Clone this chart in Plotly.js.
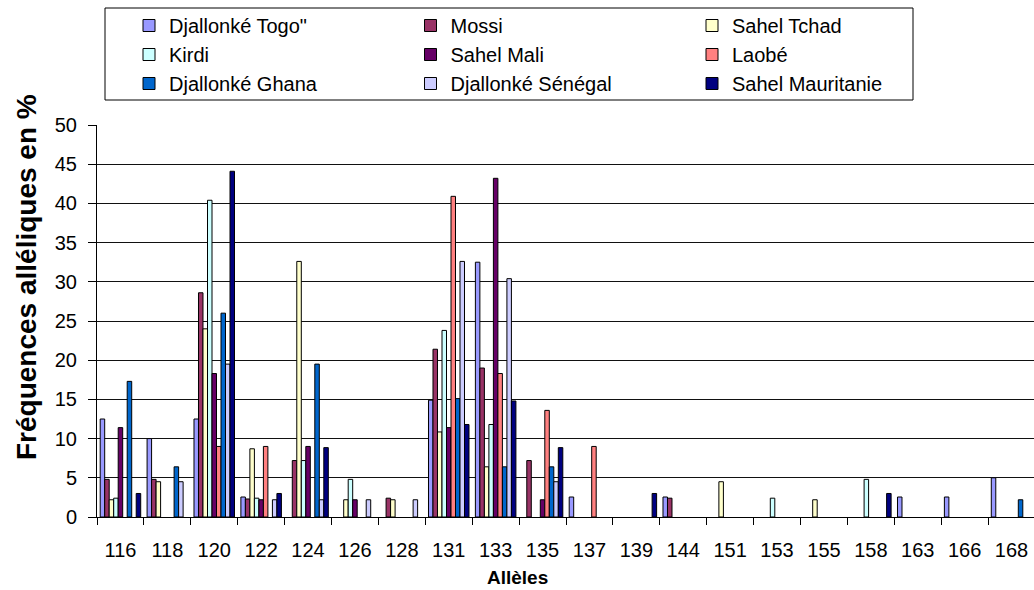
<!DOCTYPE html>
<html>
<head>
<meta charset="utf-8">
<script src="https://cdn.plot.ly/plotly-3.0.1.min.js"></script>
<style>
html, body { margin: 0; padding: 0; background: #ffffff; overflow: hidden; }
#chart { width: 1036px; height: 590px; }
</style>
</head>
<body>
<div id="chart"></div>
<script>
// Categories (alleles)
const alleles = ['116','118','120','122','124','126','128','131','133','135','137','139','144','151','153','155','158','163','166','168'];

// Series names
const seriesNames = ['Djallonké Togo"', 'Mossi', 'Sahel Tchad', 'Kirdi', 'Sahel Mali', 'Laobé', 'Djallonké Ghana', 'Djallonké Sénégal', 'Sahel Mauritanie'];

// Allelic frequencies (%) per series, null = absent
const djallonkeTogo    = [12.5, 10.0, 12.5, 2.55, null, null, null, 14.9, 32.5, null, 2.55, null, 2.55, null, null, null, null, 2.55, 2.55, 5.0];
const mossi            = [4.8, 4.8, 28.6, 2.3, 7.2, null, 2.4, 21.4, 19.0, 7.2, null, null, 2.4, null, null, null, null, null, null, null];
const sahelTchad       = [2.2, 4.5, 24.0, 8.7, 32.6, 2.2, 2.2, 10.85, 6.4, null, null, null, null, 4.5, null, 2.2, null, null, null, null];
const kirdi            = [2.4, null, 40.4, 2.4, 7.2, 4.8, null, 23.8, 11.8, null, null, null, null, null, 2.4, null, 4.8, null, null, null];
const sahelMali        = [11.4, null, 18.3, 2.2, 9.0, 2.2, null, 11.4, 43.2, 2.2, null, null, null, null, null, null, null, null, null, null];
const laobe            = [null, null, 9.0, 9.0, null, null, null, 40.9, 18.3, 13.6, 9.0, null, null, null, null, null, null, null, null, null];
const djallonkeGhana   = [17.3, 6.4, 26.0, null, 19.5, null, null, 15.1, 6.4, 6.4, null, null, null, null, null, null, null, null, null, 2.2];
const djallonkeSenegal = [null, 4.5, 19.5, 2.2, 2.2, 2.2, 2.2, 32.6, 30.4, 4.5, null, null, null, null, null, null, null, null, null, null];
const sahelMauritanie  = [3.0, null, 44.1, 3.0, 8.85, null, null, 11.8, 14.8, 8.85, null, 3.0, null, null, null, null, 3.0, null, null, null];

const seriesValues = [djallonkeTogo, mossi, sahelTchad, kirdi, sahelMali, laobe, djallonkeGhana, djallonkeSenegal, sahelMauritanie];
const seriesColors = ['#9999FF', '#993366', '#FFFFCC', '#CCFFFF', '#660066', '#FF8080', '#0066CC', '#CCCCFF', '#000080'];

const FONT = 'Liberation Sans, Arial, sans-serif';

const traces = seriesNames.map((name, i) => ({
  type: 'bar',
  name: name,
  x: alleles,
  y: seriesValues[i],
  marker: { color: seriesColors[i], line: { color: '#000000', width: 1 } }
}));

// geometry helpers (plot area: left 97px, width 938px, top 125px, height 392px)
const L = 97, W = 938, T = 125, H = 392;
const px = v => (v - L) / W;
const py = v => (T + H - v) / H;

const layout = {
  width: 1036,
  height: 590,
  margin: { l: L, r: 1036 - L - W, t: T, b: 590 - T - H, pad: 0 },
  paper_bgcolor: '#ffffff',
  plot_bgcolor: '#ffffff',
  font: { family: FONT, size: 20, color: '#000000' },
  barmode: 'group',
  bargap: 0.136,
  bargroupgap: 0,
  showlegend: true,
  legend: {
    orientation: 'h',
    x: px(129), xanchor: 'left',
    y: py(6), yanchor: 'top',
    bgcolor: 'rgba(0,0,0,0)',
    borderwidth: 0,
    font: { family: FONT, size: 20, color: '#000000' },
    entrywidth: 236.5,
    entrywidthmode: 'pixels',
    traceorder: 'normal'
  },
  xaxis: {
    type: 'category',
    showgrid: false,
    showline: true,
    linecolor: '#000000',
    linewidth: 1,
    ticks: 'outside',
    tickson: 'boundaries',
    ticklen: 7,
    tickcolor: '#000000',
    tickfont: { family: FONT, size: 20, color: '#000000' },
    ticklabelstandoff: 15,
    zeroline: false,
    fixedrange: true
  },
  yaxis: {
    range: [0, 50],
    dtick: 5,
    tick0: 0,
    showgrid: true,
    gridcolor: '#111111',
    gridwidth: 1,
    showline: true,
    linecolor: '#000000',
    linewidth: 1,
    ticks: 'outside',
    ticklen: 8,
    tickcolor: '#000000',
    tickfont: { family: FONT, size: 20, color: '#000000' },
    ticklabelstandoff: 7,
    zeroline: false,
    fixedrange: true
  },
  shapes: [
    { type: 'rect', xref: 'paper', yref: 'paper',
      x0: px(105), x1: px(913), y0: py(100), y1: py(8),
      line: { color: '#000000', width: 1 }, fillcolor: 'rgba(0,0,0,0)', layer: 'above' }
  ],
  annotations: [
    { text: 'Fréquences alléliques en %', textangle: -90, showarrow: false,
      xref: 'paper', yref: 'paper', x: px(26), y: py(277), xanchor: 'center', yanchor: 'middle',
      font: { family: FONT, size: 28, color: '#000000', weight: 700 } },
    { text: 'Allèles', showarrow: false,
      xref: 'paper', yref: 'paper', x: px(517), y: py(577), xanchor: 'center', yanchor: 'middle',
      font: { family: FONT, size: 19, color: '#000000', weight: 700 } }
  ]
};

Plotly.newPlot('chart', traces, layout, { displayModeBar: false, staticPlot: true });
</script>
</body>
</html>
